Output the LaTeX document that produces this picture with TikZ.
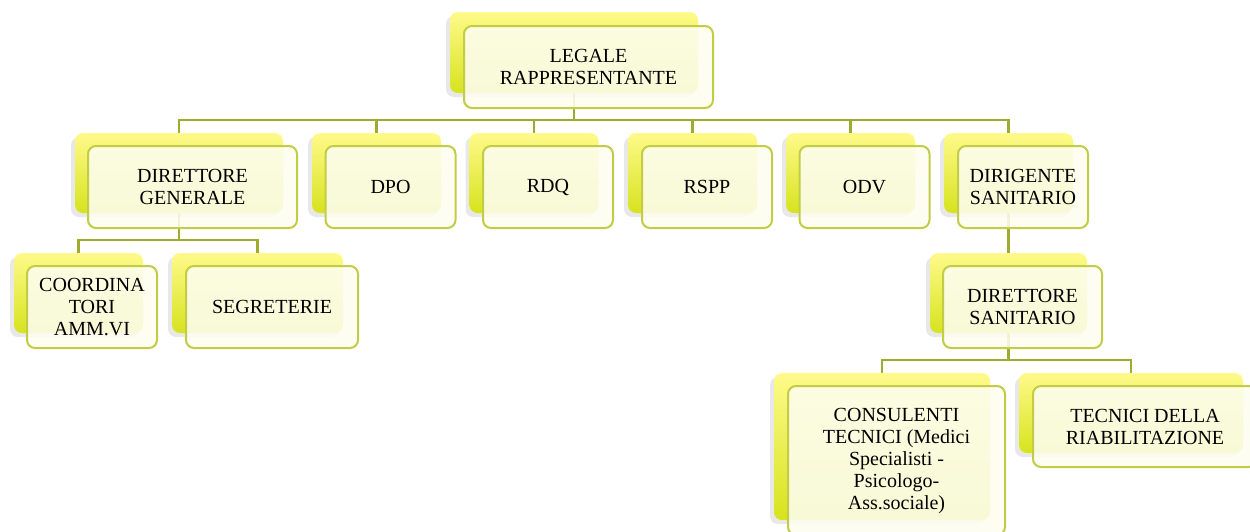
\documentclass[tikz,border=0pt]{standalone}
\usepackage{fontspec}
\setmainfont{Liberation Serif}
\usepackage{xcolor}
\usetikzlibrary{shadows}

\definecolor{yelTop}{HTML}{FFFA8A}
\definecolor{yelBot}{HTML}{D6E31E}
\definecolor{boxLine}{HTML}{C2CC45}
\definecolor{boxFill}{HTML}{FDFDF0}
\definecolor{linkLine}{HTML}{A0AA2E}

\begin{document}
\begin{tikzpicture}[x=1pt, y=-1pt,
    backbox/.style={rectangle, rounded corners=8pt, inner sep=0pt,
      top color=yelTop, bottom color=yelBot, draw=none,
      drop shadow={shadow xshift=-4pt, shadow yshift=-4pt, opacity=0.18}},
    frontbox/.style={rectangle, rounded corners=8pt, inner sep=0pt,
      draw=boxLine, line width=2pt, fill=boxFill, fill opacity=0.88,
      text opacity=1, align=center, text=black,
      font=\fontsize{20}{22}\selectfont},
    link/.style={draw=linkLine, line width=2.2pt}]
  \useasboundingbox (0,0) rectangle (1250,531);

  % Back shapes
  \node[backbox, minimum width=248pt, minimum height=81pt] (legale) at (574,52.5) {};
  \node[backbox, minimum width=208pt, minimum height=80pt] (dg) at (179,173) {};
  \foreach \name/\x in {dpo/376.5, rdq/534, rspp/692.5, odv/850.5, dirig/1008.5}
    \node[backbox, minimum width=129pt, minimum height=80pt] (\name) at (\x,173) {};
  \node[backbox, minimum width=129pt, minimum height=80pt] (coord) at (78.5,293) {};
  \node[backbox, minimum width=171pt, minimum height=80pt] (segr) at (257.5,293) {};
  \node[backbox, minimum width=157pt, minimum height=80pt] (dirsan) at (1008.5,293) {};
  \node[backbox, minimum width=216pt, minimum height=147pt] (cons) at (882,446.5) {};
  \node[backbox, minimum width=224pt, minimum height=80pt] (tecn) at (1131,413) {};

  % Connectors
  \foreach \child in {dg, dpo, rdq, rspp, odv, dirig}
    \draw[link] (legale.south) -- ++(0,27) -| (\child.north);
  \foreach \child in {coord, segr}
    \draw[link] (dg.south) -- ++(0,27) -| (\child.north);
  \draw[link] (dirig.south) -- (dirsan.north);
  \foreach \child in {cons, tecn}
    \draw[link] (dirsan.south) -- ++(0,27) -| (\child.north);

  % Text boxes
  \node[frontbox, minimum width=249pt, minimum height=82pt] (legale-t) at (588.5,67) {LEGALE\\RAPPRESENTANTE};
  \node[frontbox, minimum width=209pt, minimum height=82pt] (dg-t) at (192.5,187) {DIRETTORE\\GENERALE};
  \foreach \name/\lab/\x in {dpo/DPO/390.5, rdq/RDQ/548, rspp/RSPP/707, odv/ODV/864.5, dirig/{DIRIGENTE\\SANITARIO}/1023}
    \node[frontbox, minimum width=130pt, minimum height=82pt] (\name-t) at (\x,187) {\lab};
  \node[frontbox, minimum width=130pt, minimum height=82pt] (coord-t) at (92,307) {COORDINA\\TORI\\AMM.VI};
  \node[frontbox, minimum width=172pt, minimum height=82pt] (segr-t) at (272,307) {SEGRETERIE};
  \node[frontbox, minimum width=159pt, minimum height=82pt] (dirsan-t) at (1022.5,307) {DIRETTORE\\SANITARIO};
  \node[frontbox, minimum width=217pt, minimum height=149pt] (cons-t) at (896.5,460.5) {CONSULENTI\\TECNICI (Medici\\Specialisti -\\Psicologo-\\Ass.sociale)};
  \node[frontbox, minimum width=224pt, minimum height=81pt] (tecn-t) at (1145,426.5) {TECNICI DELLA\\RIABILITAZIONE};
\end{tikzpicture}
\end{document}
